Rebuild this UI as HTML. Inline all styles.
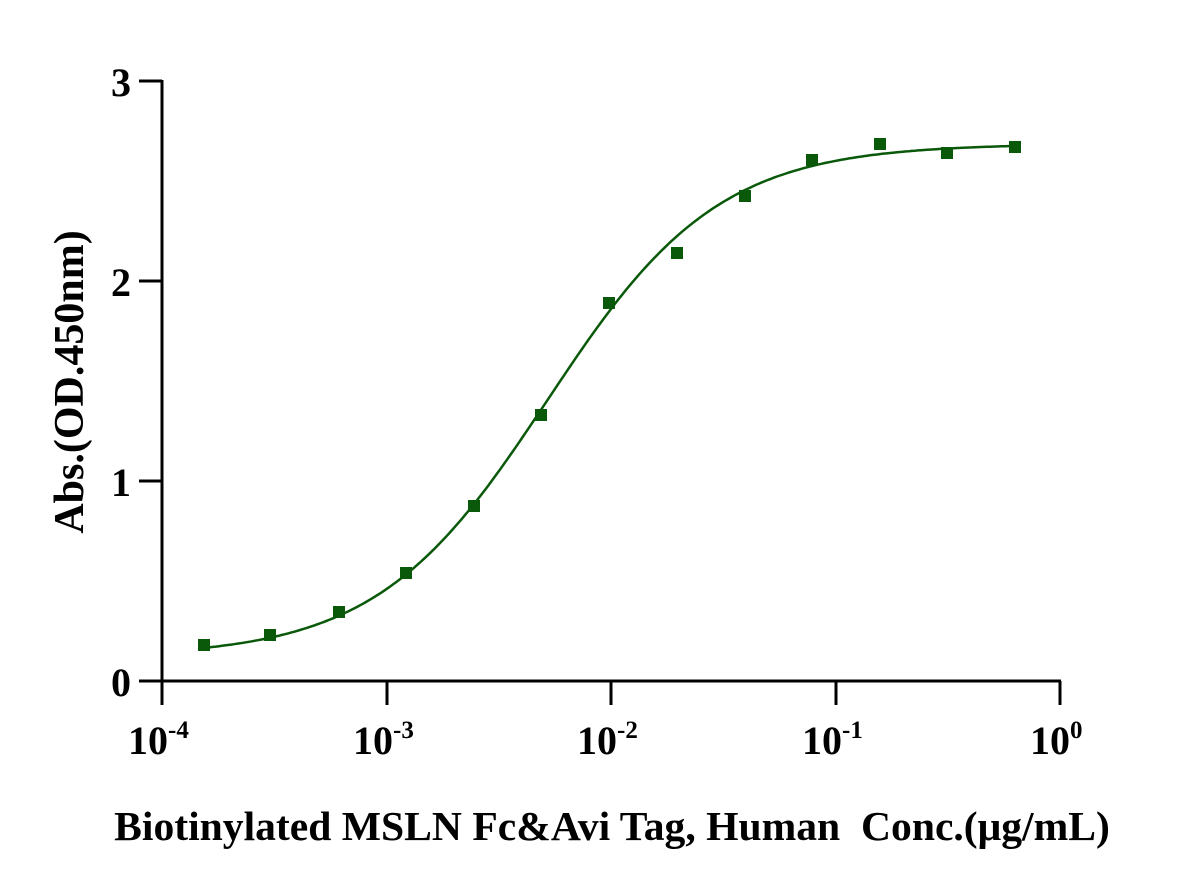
<!DOCTYPE html>
<html><head><meta charset="utf-8"><style>
body{margin:0;background:#fff}
text{font-family:"Liberation Serif",serif;font-weight:bold;fill:#000}
</style></head><body>
<svg id="s" width="1187" height="891" viewBox="0 0 1187 891" xmlns="http://www.w3.org/2000/svg">
<g stroke="#000" stroke-width="3" fill="none">
<line x1="162" y1="80" x2="162" y2="682"/>
<line x1="160.5" y1="681" x2="1061" y2="681"/>
<line x1="139" y1="81" x2="162" y2="81"/>
<line x1="139" y1="281" x2="162" y2="281"/>
<line x1="139" y1="481" x2="162" y2="481"/>
<line x1="139" y1="681" x2="162" y2="681"/>
<line x1="162" y1="681" x2="162" y2="705"/>
<line x1="387" y1="681" x2="387" y2="705"/>
<line x1="611" y1="681" x2="611" y2="705"/>
<line x1="836" y1="681" x2="836" y2="705"/>
<line x1="1060" y1="681" x2="1060" y2="705"/>
</g>
<g font-size="40" text-anchor="end">
<text x="131" y="96">3</text>
<text x="131" y="296">2</text>
<text x="131" y="496">1</text>
<text x="131" y="696">0</text>
</g>
<g font-size="40">
<text x="128" y="754">10<tspan font-size="25" dy="-16">-4</tspan></text>
<text x="353" y="754">10<tspan font-size="25" dy="-16">-3</tspan></text>
<text x="577" y="754">10<tspan font-size="25" dy="-16">-2</tspan></text>
<text x="802" y="754">10<tspan font-size="25" dy="-16">-1</tspan></text>
<text x="1030" y="754">10<tspan font-size="25" dy="-16">0</tspan></text>
</g>
<text x="612" y="840" font-size="41.6" text-anchor="middle">Biotinylated MSLN Fc&amp;Avi Tag, Human&#160; Conc.(μg/mL)</text>
<text transform="translate(83,382) rotate(-90)" font-size="42" text-anchor="middle">Abs.(OD.450nm)</text>
<path id="c" fill="none" stroke="#0a590a" stroke-width="2.5"/>
<g fill="#0a590a" id="pts"></g>
</svg>
<script>
var pts=[[204,645],[270,635],[339,612],[406,573],[474,506],[541,415],[609,303],[677,253],[745,196],[812,160],[880,144],[947,153],[1015,147]];
var g=document.getElementById('pts'),h='';
pts.forEach(function(p){h+='<rect x="'+(p[0]-6)+'" y="'+(p[1]-6)+'" width="12" height="12"/>';});
g.innerHTML=h;
var B=0.12,T=2.69,L=-2.284,H=1.14,d='';
for(var px=204;px<=1015;px+=3){var lx=-4+(px-162)/224.5;var v=B+(T-B)/(1+Math.pow(10,(L-lx)*H));var py=681-v*199.7;d+=(d?'L':'M')+px+','+py.toFixed(1);}
document.getElementById('c').setAttribute('d',d);
</script>
</body></html>
